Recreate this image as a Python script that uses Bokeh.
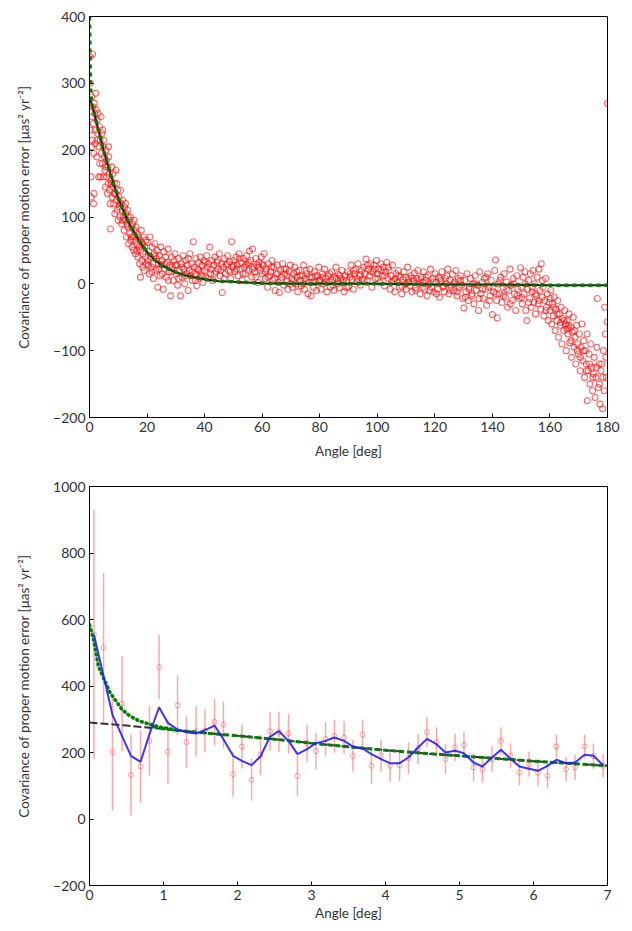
from bokeh.plotting import figure
from bokeh.layouts import column
from bokeh.models import Range1d, SingleIntervalTicker, CustomJSTickFormatter, ColumnDataSource
from bokeh.embed import file_html
from bokeh.resources import INLINE

# ---- top panel: covariance vs angle, 0-180 deg (angle, covariance) ----
pts_0_20 = [(0.2, 340), (0.3, 300), (0.4, 230), (0.5, 160), (0.6, 130), (0.7, 205), (0.8, 280), (0.9, 250),
            (1.0, 215), (1.1, 344), (1.2, 265), (1.3, 240), (1.4, 120), (1.5, 195), (1.6, 135), (1.7, 270),
            (1.8, 255), (1.9, 230), (2.0, 210), (2.2, 285), (2.4, 260), (2.5, 190), (2.7, 245), (2.9, 225),
            (3.0, 255), (3.2, 160), (3.3, 205), (3.5, 235), (3.7, 215), (3.8, 160), (4.0, 250), (4.2, 195),
            (4.3, 225), (4.5, 180), (4.7, 205), (4.9, 160), (5.0, 215), (5.2, 190), (5.4, 170), (5.5, 145),
            (5.7, 200), (5.9, 185), (6.0, 160), (6.2, 135), (6.4, 175), (6.5, 150), (6.7, 190), (6.9, 165),
            (7.0, 140), (7.2, 120), (7.3, 82), (7.5, 155), (7.7, 175), (7.9, 130), (8.0, 145), (8.2, 165),
            (8.4, 120), (8.6, 150), (8.8, 105), (9.0, 135), (9.2, 170), (9.4, 125), (9.6, 110), (9.8, 140),
            (10.0, 95), (10.2, 130), (10.4, 115), (10.6, 100), (10.8, 140), (11.0, 120), (11.2, 90), (11.4, 110),
            (11.6, 125), (11.8, 100), (12.0, 80), (12.2, 115), (12.4, 95), (12.6, 105), (12.8, 70), (13.0, 90),
            (13.2, 110), (13.4, 85), (13.6, 60), (13.8, 95), (14.0, 75), (14.2, 100), (14.4, 65), (14.6, 85),
            (14.8, 55), (15.0, 90), (15.2, 70), (15.4, 50), (15.6, 80), (15.8, 65), (16.0, 45), (16.2, 85),
            (16.4, 60), (16.6, 75), (16.8, 40), (17.0, 70), (17.2, 55), (17.4, 30), (17.6, 65), (17.7, 10),
            (17.8, 50), (18.0, 80), (18.2, 35), (18.4, 60), (18.6, 45), (18.8, 70), (19.0, 20), (19.2, 55),
            (19.4, 40), (19.6, 65), (19.8, 30)]

pts_20_80 = [(20.1, 62), (20.3, 35), (20.6, 48), (20.8, 15), (21.0, 70), (21.3, 40), (21.5, 25), (21.8, 55),
             (22.0, 30), (22.2, 8), (22.5, 45), (22.7, 60), (23.0, 20), (23.2, 38), (23.5, 50), (23.7, -5),
             (24.0, 30), (24.2, 42), (24.5, 12), (24.8, 55), (25.0, 28), (25.3, 35), (25.6, -8), (25.8, 48),
             (26.1, 22), (26.4, 40), (26.7, 10), (27.0, 32), (27.3, 52), (27.6, 18), (27.9, 28), (28.2, -18),
             (28.5, 40), (28.8, 25), (29.1, 5), (29.4, 35), (29.7, 45), (30.0, 15), (30.3, 28), (30.6, -2),
             (30.9, 38), (31.2, 20), (31.6, -18), (31.9, 30), (32.2, 10), (32.5, 42), (32.8, 22), (33.1, 0),
             (33.4, 35), (33.7, 15), (34.0, 28), (34.3, -10), (34.6, 20), (34.9, 45), (35.2, 12), (35.5, 30),
             (35.8, 5), (36.1, 63), (36.4, 25), (36.7, 15), (37.0, 38), (37.3, -3), (37.6, 22), (37.9, 32),
             (38.2, 8), (38.5, 40), (38.8, 18), (39.1, 28), (39.4, 2), (39.7, 35), (40.0, 20), (40.4, 10),
             (40.7, 42), (41.0, 25), (41.4, 30), (41.8, 55), (42.1, 15), (42.5, 35), (42.9, 5), (43.2, 28),
             (43.6, 40), (44.0, 18), (44.3, 32), (44.7, 22), (45.1, 45), (45.4, 12), (45.8, 30), (46.1, -13),
             (46.5, 25), (46.9, 38), (47.2, 15), (47.6, 28), (48.0, 42), (48.3, 20), (48.7, 33), (49.1, 8),
             (49.4, 63), (49.8, 25), (50.2, 35), (50.5, 18), (50.9, 40), (51.3, 28), (51.6, 12), (52.0, 45),
             (52.4, 22), (52.7, 32), (53.1, 5), (53.5, 38), (53.8, 25), (54.2, 15), (54.6, 42), (54.9, 30),
             (55.3, 20), (55.6, 49), (56.0, 35), (56.4, 10), (56.7, 52), (57.1, 25), (57.5, 18), (57.8, 38),
             (58.2, 28), (58.6, 2), (58.9, 32), (59.3, 20), (59.7, 40), (60.0, 15), (60.4, 28), (60.7, 45),
             (61.1, 8), (61.5, 22), (61.9, -5), (62.2, 30), (62.6, 12), (63.0, 18), (63.4, 35), (63.7, 5),
             (64.1, 25), (64.5, -10), (64.9, 15), (65.2, 28), (65.6, 2), (66.0, -13), (66.4, 20), (66.7, 10),
             (67.1, 30), (67.5, -2), (67.9, 15), (68.3, 22), (68.6, 5), (69.0, -8), (69.4, 18), (69.8, 28),
             (70.2, 8), (70.5, -5), (70.9, 15), (71.3, 25), (71.7, 0), (72.1, 10), (72.4, -12), (72.8, 20),
             (73.2, 5), (73.6, -3), (74.0, 12), (74.4, 28), (74.7, -8), (75.1, 8), (75.5, 15), (75.9, -15),
             (76.3, 2), (76.6, 22), (77.0, -18), (77.4, 10), (77.8, -5), (78.2, 18), (78.6, 3), (78.9, -10),
             (79.3, 12), (79.7, 25)]

pts_80_150 = [(80.1, 5), (80.5, -8), (80.9, 15), (81.3, 0), (81.7, 22), (82.1, 8), (82.5, -12), (82.9, 12),
              (83.3, 3), (83.7, -5), (84.1, 18), (84.5, 6), (84.9, -10), (85.3, 10), (85.7, 25), (86.1, 0),
              (86.5, 14), (86.9, -6), (87.3, 8), (87.7, 20), (88.1, 2), (88.5, -12), (88.9, 12), (89.3, 5),
              (89.7, 18), (90.1, -4), (90.5, 10), (90.9, 28), (91.3, 6), (91.7, -8), (92.1, 15), (92.5, 22),
              (92.9, 3), (93.3, 30), (93.7, 12), (94.1, -2), (94.5, 20), (94.9, 8), (95.3, 25), (95.7, 15),
              (96.1, 37), (96.5, 5), (96.9, 22), (97.3, 12), (97.7, 30), (98.1, -5), (98.5, 18), (98.9, 28),
              (99.3, 8), (99.7, 35), (100.1, 15), (100.5, 22), (100.9, 2), (101.3, 30), (101.7, 12), (102.1, 25),
              (102.5, -3), (102.9, 18), (103.3, 32), (103.7, 8), (104.1, 20), (104.5, -8), (104.9, 12), (105.3, 28),
              (105.7, 5), (106.1, -12), (106.5, 15), (106.9, 2), (107.3, 20), (107.7, -5), (108.1, 10), (108.5, -15),
              (108.9, 6), (109.3, 18), (109.7, 0), (110.1, -8), (110.5, 25), (110.9, 8), (111.3, -3), (111.7, 12),
              (112.1, -12), (112.5, 4), (112.9, 16), (113.3, -6), (113.7, 8), (114.1, 20), (114.5, 0), (114.9, -15),
              (115.3, 10), (115.7, 2), (116.1, 18), (116.5, -8), (116.9, 5), (117.3, -18), (117.7, 12), (118.1, 0),
              (118.5, 22), (118.9, -5), (119.3, 8), (119.7, -12), (120.1, 15), (120.5, 2), (120.9, -8), (121.3, 10),
              (121.7, -20), (122.1, 5), (122.5, 18), (122.9, -3), (123.3, -12), (123.7, 8), (124.1, 0), (124.5, 22),
              (124.9, -15), (125.3, 6), (125.7, -5), (126.1, 14), (126.5, -10), (126.9, 3), (127.3, 20), (127.7, -18),
              (128.1, 8), (128.5, -6), (128.9, 12), (129.3, -2), (129.7, -22), (130.1, -36), (130.4, 5), (130.8, -12),
              (131.2, 15), (131.6, -25), (132.0, -5), (132.4, 8), (132.8, -18), (133.2, 0), (133.6, -30), (134.0, 12),
              (134.4, -10), (134.8, -2), (135.2, -40), (135.6, 18), (136.0, -15), (136.4, 2), (136.8, -22), (137.2, 8),
              (137.6, -8), (138.0, -32), (138.4, 15), (138.8, -5), (139.2, -18), (139.6, 5), (140.0, -46), (140.4, -12),
              (140.8, 20), (141.1, 36), (141.5, -25), (141.7, -51), (142.1, 0), (142.5, -15), (142.9, 10), (143.3, -28),
              (143.7, -5), (144.1, 15), (144.5, -20), (144.9, 3), (145.3, -35), (145.7, -10), (146.1, 22), (146.5, -2),
              (146.9, -25), (147.3, 8), (147.7, -15), (148.1, -40), (148.5, 12), (148.9, -8), (149.3, -22), (149.8, 24)]

pts_150_180 = [(150.1, -5), (150.4, -30), (150.7, 10), (151.0, -15), (151.3, 18), (151.6, -40), (152.0, -55),
               (152.3, -8), (152.6, 5), (152.9, -22), (153.2, 15), (153.5, -35), (153.8, -12), (154.1, 20),
               (154.4, -28), (154.7, 0), (155.0, -45), (155.3, -18), (155.6, 10), (155.9, -30), (156.2, 22),
               (156.5, -10), (156.8, -38), (157.0, 30), (157.3, -20), (157.6, -5), (157.9, -48), (158.2, -25),
               (158.5, 8), (158.8, -35), (159.1, -15), (159.4, -55), (159.7, -28), (160.0, -40), (160.3, -10),
               (160.6, -60), (160.9, -30), (161.2, -48), (161.5, -20), (161.8, -70), (162.1, -38), (162.4, -55),
               (162.7, -25), (163.0, -80), (163.3, -45), (163.6, -62), (163.9, -35), (164.2, -90), (164.5, -52),
               (164.8, -70), (165.1, -40), (165.4, -60), (165.7, -100), (166.0, -55), (166.2, -66), (166.3, -75),
               (166.6, -45), (166.9, -88), (167.2, -65), (167.5, -110), (167.8, -72), (168.1, -50), (168.4, -95),
               (168.7, -80), (169.0, -120), (169.3, -62), (169.6, -90), (169.9, -105), (170.2, -75), (170.5, -130),
               (170.8, -95), (171.1, -60), (171.4, -115), (171.7, -85), (172.0, -140), (172.3, -100), (172.6, -120),
               (172.9, -75), (173.0, -175), (173.3, -130), (173.6, -105), (173.9, -150), (174.2, -90), (174.5, -125),
               (174.8, -160), (175.1, -135), (175.4, -110), (175.7, -170), (176.0, -140), (176.3, -95), (176.5, -22),
               (176.8, -155), (177.1, -120), (177.4, -180), (177.7, -130), (178.0, -120), (178.3, -187), (178.6, -100),
               (178.9, -160), (179.0, -35), (179.3, -75), (179.6, -140), (179.9, -57), (180.0, 270)]

# second pass of the densest parts of the cloud
pts_dense = [(2.6, 215), (3.6, 180), (4.6, 230), (5.6, 175), (6.6, 205), (7.6, 150), (8.5, 135), (9.5, 150),
             (10.5, 120), (11.5, 95), (12.5, 120), (13.5, 100), (14.5, 70), (15.5, 95), (16.5, 50), (18.5, 25),
             (20.5, 28), (21.7, 18), (22.9, 42), (24.1, 22), (25.2, 15), (26.3, 30), (27.4, 5), (28.6, 18),
             (29.8, 28), (31.0, 8), (32.1, 25), (33.3, 12), (34.4, 38), (35.6, 18), (36.8, 5), (37.9, 20),
             (39.0, 12), (40.2, 32), (41.2, 8), (42.3, 22), (43.4, 15), (44.5, 35), (45.6, 20), (46.7, 8),
             (47.8, 30), (48.9, 18), (50.0, 28), (51.1, 22), (52.2, 38), (53.3, 15), (54.4, 28), (55.5, 32),
             (56.6, 22), (57.7, 10), (58.8, 25), (59.9, 30), (61.0, 18), (62.1, 10), (63.2, 25), (64.3, 8),
             (65.4, 15), (66.5, 5), (67.6, 22), (68.7, 12), (69.8, 0), (70.9, 5), (72.0, 18), (73.1, 12),
             (74.2, 0), (75.3, 20), (76.4, 10), (77.5, 2), (78.6, 12), (79.8, 5), (81.0, 10), (82.2, 2),
             (83.4, 15), (84.6, -2), (85.8, 8), (87.0, 12), (88.2, 6), (89.4, -6), (90.6, 15), (91.8, 20),
             (93.0, 8), (94.2, 14), (95.4, 5), (96.6, 28), (97.8, 18), (99.0, 22), (100.2, 8), (101.4, 20),
             (102.6, 12), (103.8, 25), (105.0, 3), (106.2, 8), (107.4, 12), (108.6, -4), (109.8, 10), (111.0, 2),
             (112.2, 8), (113.4, -10), (114.6, 6), (115.8, -5), (117.0, 10), (118.2, -10), (119.4, 3), (120.6, -15),
             (121.8, 8), (123.0, -5), (124.2, 12), (125.4, -10), (126.6, 0), (127.8, -12), (129.0, 5), (130.6, -20),
             (131.8, -8), (133.0, -15), (134.2, 0), (135.4, -22), (136.6, -8), (137.8, 10), (139.0, -25), (140.2, -5),
             (141.4, -15), (142.6, 5), (143.8, -18), (145.0, -8), (146.2, -30), (147.4, 0), (148.6, -18), (150.2, -20),
             (151.4, 0), (152.6, -28), (153.8, -5), (155.0, -15), (156.2, -25), (157.4, 5), (158.6, -40), (160.1, -22),
             (161.3, -35), (162.5, -45), (163.7, -58), (164.9, -55), (165.9, -68), (166.5, -62), (167.4, -85),
             (168.5, -70), (169.5, -100), (170.6, -110), (171.6, -100), (172.7, -130), (173.8, -120), (174.9, -140),
             (176.1, -125), (177.2, -150), (178.4, -140), (179.4, -110)]

# fitted curves, top panel
fit_ang = [0, 1, 2, 3, 4, 5, 6, 7, 8, 9, 10, 12, 14, 16, 18, 20, 22, 25, 28, 30, 35, 40, 45, 50,
           60, 70, 80, 100, 120, 140, 160, 180]
fit_cov = [280, 265, 250, 232, 215, 198, 183, 168, 155, 140, 128, 107, 88, 74, 60, 48, 38, 28, 21, 17,
           11, 7, 4, 3, 1, 0, 0, 0, -1, -1, -2, -2]
model_ang = [0.0, 0.1, 0.2, 0.35, 0.5, 0.8, 1.2, 2, 3, 4, 5, 6, 7, 8, 9, 10, 12, 14, 16, 18, 20, 22, 25,
             28, 30, 35, 40, 45, 50, 60, 70, 80, 100, 120, 140, 160, 180]
model_cov = [400, 365, 330, 300, 285, 272, 263, 250, 232, 215, 198, 183, 168, 155, 140, 128, 107, 88, 74,
             60, 48, 38, 28, 21, 17, 11, 7, 4, 3, 1, 0, 0, 0, -1, -1, -2, -2]

# ---- bottom panel: binned covariance, 0-7 deg ----
bin_ang = [0.06, 0.19, 0.31, 0.44, 0.56, 0.69, 0.81, 0.94, 1.06, 1.19, 1.31, 1.44, 1.56, 1.69, 1.81, 1.94,
           2.06, 2.19, 2.31, 2.44, 2.56, 2.69, 2.81, 2.94, 3.06, 3.19, 3.31, 3.44, 3.56, 3.69, 3.81, 3.94,
           4.06, 4.19, 4.31, 4.44, 4.56, 4.69, 4.81, 4.94, 5.06, 5.19, 5.31, 5.44, 5.56, 5.69, 5.81, 5.94,
           6.06, 6.19, 6.31, 6.44, 6.56, 6.69, 6.81, 6.94]
bin_cov = [555, 515, 201, 347, 132, 158, 235, 457, 202, 342, 231, 264, 265, 292, 284, 135,
           218, 118, 193, 264, 261, 257, 130, 228, 204, 240, 249, 245, 190, 254, 160, 190,
           160, 162, 183, 210, 261, 231, 180, 215, 222, 155, 150, 180, 235, 190, 140, 165,
           140, 130, 218, 150, 155, 218, 189, 160]
bin_err = [375, 225, 175, 143, 122, 110, 105, 97, 97, 90, 78, 76, 65, 70, 70, 67,
           66, 63, 61, 58, 60, 60, 60, 55, 55, 52, 50, 50, 48, 45, 55, 48,
           48, 48, 48, 45, 44, 45, 45, 41, 40, 42, 40, 40, 41, 38, 39, 38,
           40, 38, 36, 37, 38, 36, 38, 35]
smooth_cov = [554, 430, 314, 249, 190, 172, 255, 336, 289, 269, 261, 257, 267, 281, 240, 190,
              175, 162, 188, 248, 264, 235, 195, 210, 228, 235, 245, 235, 218, 212, 195, 180,
              168, 168, 185, 215, 241, 225, 200, 205, 198, 170, 158, 185, 208, 181, 158, 151,
              145, 160, 178, 168, 170, 193, 190, 162]

trend_ang = [0, 0.5, 1, 1.5, 2, 2.5, 3, 3.5, 4, 4.5, 5, 5.5, 6, 6.5, 7]
trend_cov = [290, 281, 271, 260, 250, 240, 228, 217, 207, 198, 190, 182, 174, 167, 160]
steep_ang = [0, 0.05, 0.12, 0.23, 0.28, 0.44, 0.55, 0.68, 0.94, 1.2]
steep_cov = [584, 545, 459, 404, 379, 329, 309, 294, 277, 266]
tail_ang = [0.85, 1, 1.5, 2, 2.5, 3, 3.5, 4, 4.5, 5, 5.5, 6, 6.5, 7]
tail_cov = [278, 271, 260, 250, 240, 228, 217, 207, 198, 190, 182, 174, 167, 160]

YLABEL = "Covariance of proper motion error [\u03bcas\u00b2 yr\u207b\u00b2]"
FONT = "Lato"
GREEN = "#008000"

minus_fmt = CustomJSTickFormatter(code='return tick < 0 ? "\\u2212" + (-tick) : "" + tick;')


def style(p, xint, yint, x_standoff):
    p.outline_line_color = "black"
    p.outline_line_width = 1
    p.grid.visible = False
    p.xaxis.ticker = SingleIntervalTicker(interval=xint, num_minor_ticks=0)
    p.yaxis.ticker = SingleIntervalTicker(interval=yint, num_minor_ticks=0)
    p.yaxis.formatter = minus_fmt
    for ax in (p.xaxis[0], p.yaxis[0]):
        ax.axis_line_color = "black"
        ax.major_tick_in = 4
        ax.major_tick_out = 0
        ax.minor_tick_line_color = None
        ax.major_tick_line_color = "black"
        ax.major_label_text_font = FONT
        ax.major_label_text_font_size = "14px"
        ax.major_label_text_color = "#333333"
        ax.axis_label_text_font = FONT
        ax.axis_label_text_font_size = "13.5px"
        ax.axis_label_text_font_style = "normal"
        ax.axis_label_text_color = "#333333"
        ax.major_label_standoff = 4
    p.yaxis.axis_label_standoff = 18
    p.xaxis.axis_label_standoff = x_standoff


# top figure
top = figure(width=624, height=462, output_backend="svg", toolbar_location=None,
             x_range=Range1d(0, 180), y_range=Range1d(-200, 400),
             x_axis_label="Angle [deg]", y_axis_label=YLABEL,
             min_border_left=89, min_border_right=17, min_border_top=16, min_border_bottom=45)
style(top, 20, 100, 8)

all_pts = pts_0_20 + pts_20_80 + pts_80_150 + pts_150_180 + pts_dense
scat = ColumnDataSource(dict(x=[a for a, c in all_pts], y=[c for a, c in all_pts]))
top.scatter("x", "y", source=scat, marker="circle", size=6, fill_color=None,
            line_color="red", line_alpha=0.6, line_width=1.1)
top.line(fit_ang, fit_cov, line_color="#222222", line_width=2)
top.line(model_ang, model_cov, line_color=GREEN, line_width=3.5, line_dash="4 4")

# bottom figure
bot = figure(width=624, height=461, output_backend="svg", toolbar_location=None,
             x_range=Range1d(0, 7), y_range=Range1d(-200, 1000),
             x_axis_label="Angle [deg]", y_axis_label=YLABEL,
             min_border_left=89, min_border_right=17, min_border_top=24, min_border_bottom=35)
style(bot, 1, 200, 2)

lo = [c - e for c, e in zip(bin_cov, bin_err)]
hi = [c + e for c, e in zip(bin_cov, bin_err)]
bot.segment(x0=bin_ang, y0=lo, x1=bin_ang, y1=hi, line_color="red", line_alpha=0.35, line_width=1.5)
bot.scatter(bin_ang, bin_cov, marker="circle", size=5, fill_color=None,
            line_color="red", line_alpha=0.35, line_width=1)
bot.line(trend_ang, trend_cov, line_color="#333333", line_width=2, line_dash="8 3")
bot.line(tail_ang, tail_cov, line_color=GREEN, line_width=3, line_dash="5 3")
bot.line(steep_ang, steep_cov, line_color=GREEN, line_width=3.5, line_dash="1 4", line_cap="round")
bot.line(bin_ang, smooth_cov, line_color="#2020ff", line_width=2, line_alpha=0.9)

layout = column(top, bot, spacing=0)
open("out.html", "w").write(file_html(layout, INLINE))
